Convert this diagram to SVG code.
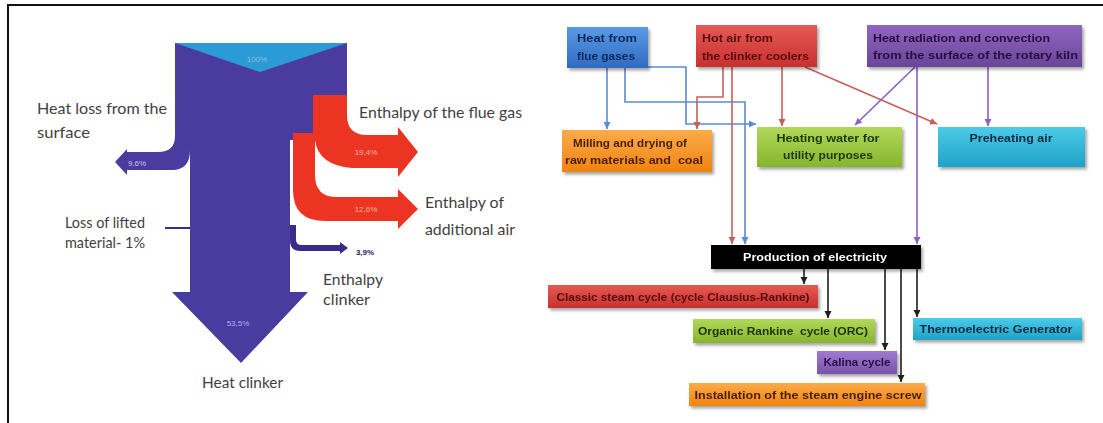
<svg xmlns="http://www.w3.org/2000/svg" width="1103" height="423" viewBox="0 0 1103 423">
  <style>
    .lbl { font-family: "Lato", "Liberation Sans", Arial, sans-serif; font-size: 16px; fill: #3f3f3f; }
    .pct { font-family: "Liberation Sans", Arial, sans-serif; font-size: 8px; }
    .bx  { font-family: "Liberation Sans", Arial, sans-serif; font-size: 11px; font-weight: bold; }
    .cb { fill: none; stroke: #5b8bd4; stroke-width: 1.6; }
    .cr { fill: none; stroke: #c8605a; stroke-width: 1.6; }
    .cp { fill: none; stroke: #8b5fc4; stroke-width: 1.6; }
    .ck { fill: none; stroke: #1e1e1e; stroke-width: 1.6; }
  </style>
  <defs>
    <filter id="shadow" x="-10%" y="-20%" width="125%" height="160%">
      <feDropShadow dx="2" dy="2.5" stdDeviation="1.5" flood-color="#000" flood-opacity="0.35"/>
    </filter>
    <linearGradient id="gBlue" x1="0" y1="0" x2="0" y2="1"><stop offset="0" stop-color="#5a9ae6"/><stop offset="1" stop-color="#2f6bc0"/></linearGradient>
    <linearGradient id="gRed" x1="0" y1="0" x2="0" y2="1"><stop offset="0" stop-color="#e65a55"/><stop offset="1" stop-color="#c8302e"/></linearGradient>
    <linearGradient id="gPurple" x1="0" y1="0" x2="0" y2="1"><stop offset="0" stop-color="#9066c0"/><stop offset="1" stop-color="#6a4598"/></linearGradient>
    <linearGradient id="gOrange" x1="0" y1="0" x2="0" y2="1"><stop offset="0" stop-color="#fbab4a"/><stop offset="1" stop-color="#f0840f"/></linearGradient>
    <linearGradient id="gGreen" x1="0" y1="0" x2="0" y2="1"><stop offset="0" stop-color="#b2d85a"/><stop offset="1" stop-color="#86b52e"/></linearGradient>
    <linearGradient id="gCyan" x1="0" y1="0" x2="0" y2="1"><stop offset="0" stop-color="#4ccbe8"/><stop offset="1" stop-color="#1fa2c8"/></linearGradient>
    <linearGradient id="gViolet" x1="0" y1="0" x2="0" y2="1"><stop offset="0" stop-color="#a07ad0"/><stop offset="1" stop-color="#7a52ac"/></linearGradient>
    <marker id="aB" markerUnits="userSpaceOnUse" markerWidth="8" markerHeight="8" refX="7" refY="4" orient="auto"><path d="M0,0.5 L7,4 L0,7.5 Z" fill="#5b8bd4"/></marker>
    <marker id="aR" markerUnits="userSpaceOnUse" markerWidth="8" markerHeight="8" refX="7" refY="4" orient="auto"><path d="M0,0.5 L7,4 L0,7.5 Z" fill="#c8605a"/></marker>
    <marker id="aP" markerUnits="userSpaceOnUse" markerWidth="8" markerHeight="8" refX="7" refY="4" orient="auto"><path d="M0,0.5 L7,4 L0,7.5 Z" fill="#8b5fc4"/></marker>
    <marker id="aK" markerUnits="userSpaceOnUse" markerWidth="8" markerHeight="8" refX="7" refY="4" orient="auto"><path d="M0,0.5 L7,4 L0,7.5 Z" fill="#1e1e1e"/></marker>
  </defs>

  <rect width="1103" height="423" fill="#ffffff"/>
  <!-- frame -->
  <path d="M8,423 V5 H1103" fill="none" stroke="#111" stroke-width="2"/>

  <!-- Sankey: heat balance of the kiln -->
  <g id="sankey">
    <path id="main-flow" d="M175,43 L347,43 L347,120 L313,120 L313,140 L290,140 L290,292 L308,292 L241,363 L172,292 L190,292 L190,150 Q190,170 172,170 L127,170 L127,175 L115,162 L127,149 L127,152 L158,152 Q175,152 175,136 Z" fill="#4a3b9f"/>
    <polygon id="input-100" points="175,43 347,43 260,72" fill="#2b9bd8"/>
    <path id="flue-gas" d="M313,95 L347,95 L347,115 Q347,135 367,135 L398,135 L398,127 L418,152 L398,177 L398,168 L352,168 Q318,165 315,140 L313,140 Z" fill="#ec3423"/>
    <path id="additional-air" d="M293,133 L315,133 L315,175 Q315,197 337,197 L398,197 L398,189 L418,209 L398,229 L398,221 L325,221 Q293,221 293,190 Z" fill="#ec3423"/>
    <path id="clinker-enthalpy" d="M290,225 L296,225 L296,240 Q296,245 302,245 L340,245 L340,242 L348,248 L340,254 L340,251 L300,251 Q290,251 290,240 Z" fill="#3a2c8c"/>
    <line id="lifted-material" x1="165" y1="228" x2="190" y2="228" stroke="#3a2c8c" stroke-width="2"/>

    <text class="pct" x="257" y="62" text-anchor="middle" fill="#8fb8d8">100%</text>
    <text class="pct" x="137" y="166" text-anchor="middle" fill="#c9c4f0">9.6%</text>
    <text class="pct" x="366" y="155" text-anchor="middle" fill="#ffb3a3">19,4%</text>
    <text class="pct" x="366" y="212" text-anchor="middle" fill="#ffb3a3">12,6%</text>
    <text class="pct" x="238" y="326" text-anchor="middle" font-size="10" fill="#b4aef0">53,5%</text>
    <text class="pct" x="365" y="255" text-anchor="middle" font-weight="bold" fill="#2a2060">3,9%</text>

    <text class="lbl" x="37" y="114" textLength="130" lengthAdjust="spacingAndGlyphs">Heat loss from the</text>
    <text class="lbl" x="37" y="138" textLength="53" lengthAdjust="spacingAndGlyphs">surface</text>
    <text class="lbl" x="65" y="228" textLength="80" lengthAdjust="spacingAndGlyphs">Loss of lifted</text>
    <text class="lbl" x="65" y="248" textLength="80" lengthAdjust="spacingAndGlyphs">material- 1%</text>
    <text class="lbl" x="359" y="118" textLength="163" lengthAdjust="spacingAndGlyphs">Enthalpy of the flue gas</text>
    <text class="lbl" x="425" y="208" textLength="79" lengthAdjust="spacingAndGlyphs">Enthalpy of</text>
    <text class="lbl" x="425" y="235" textLength="90" lengthAdjust="spacingAndGlyphs">additional air</text>
    <text class="lbl" x="323" y="285" textLength="60" lengthAdjust="spacingAndGlyphs">Enthalpy</text>
    <text class="lbl" x="323" y="305" textLength="47" lengthAdjust="spacingAndGlyphs">clinker</text>
    <text class="lbl" x="202" y="388" textLength="81" lengthAdjust="spacingAndGlyphs">Heat clinker</text>
  </g>

  <!-- connectors -->
  <g id="connectors">
    <path class="cb" d="M607,68 V129" marker-end="url(#aB)"/>
    <path class="cb" d="M625,68 V102 H745 V244" marker-end="url(#aB)"/>
    <path class="cb" d="M648,67 H686 V124 H756" marker-end="url(#aB)"/>
    <path class="cr" d="M723,67 V97 H697 V129" marker-end="url(#aR)"/>
    <path class="cr" d="M732,67 V244" marker-end="url(#aR)"/>
    <path class="cr" d="M782,67 V126" marker-end="url(#aR)"/>
    <path class="cr" d="M805,67 L937,124" marker-end="url(#aR)"/>
    <path class="cp" d="M915,67 L855,125" marker-end="url(#aP)"/>
    <path class="cp" d="M917,67 V244" marker-end="url(#aP)"/>
    <path class="cp" d="M988,67 V126" marker-end="url(#aP)"/>
    <path class="ck" d="M804,269 V284" marker-end="url(#aK)"/>
    <path class="ck" d="M828,269 V318" marker-end="url(#aK)"/>
    <path class="ck" d="M885,269 V350" marker-end="url(#aK)"/>
    <path class="ck" d="M901,269 V382" marker-end="url(#aK)"/>
    <path class="ck" d="M917,269 V317" marker-end="url(#aK)"/>
  </g>

  <!-- sources -->
  <g id="flue-gases" filter="url(#shadow)">
    <rect x="567" y="27" width="81" height="41" fill="url(#gBlue)"/>
    <text class="bx" x="577" y="42" fill="#10285a" textLength="60" lengthAdjust="spacingAndGlyphs">Heat from</text>
    <text class="bx" x="577" y="60" fill="#10285a" textLength="58" lengthAdjust="spacingAndGlyphs">flue gases</text>
  </g>
  <g id="clinker-coolers" filter="url(#shadow)">
    <rect x="696" y="25" width="121" height="42" fill="url(#gRed)"/>
    <text class="bx" x="702" y="42" fill="#560c0c" textLength="71" lengthAdjust="spacingAndGlyphs">Hot air from</text>
    <text class="bx" x="702" y="60" fill="#560c0c" textLength="107" lengthAdjust="spacingAndGlyphs">the clinker coolers</text>
  </g>
  <g id="kiln-surface" filter="url(#shadow)">
    <rect x="867" y="25" width="215" height="42" fill="url(#gPurple)"/>
    <text class="bx" x="873" y="42" fill="#2a0e40" textLength="177" lengthAdjust="spacingAndGlyphs">Heat radiation and convection</text>
    <text class="bx" x="873" y="59" fill="#2a0e40" textLength="205" lengthAdjust="spacingAndGlyphs">from the surface of the rotary kiln</text>
  </g>

  <!-- direct uses -->
  <g id="milling" filter="url(#shadow)">
    <rect x="562" y="130" width="150" height="42" fill="url(#gOrange)"/>
    <text class="bx" x="630" y="147" text-anchor="middle" fill="#4a1f00" textLength="114" lengthAdjust="spacingAndGlyphs">Milling and drying of</text>
    <text class="bx" x="634" y="164" text-anchor="middle" fill="#4a1f00" xml:space="preserve" textLength="138" lengthAdjust="spacingAndGlyphs">raw materials and  coal</text>
  </g>
  <g id="heating-water" filter="url(#shadow)">
    <rect x="757" y="127" width="145" height="40" fill="url(#gGreen)"/>
    <text class="bx" x="828" y="142" text-anchor="middle" fill="#1c3800" textLength="103" lengthAdjust="spacingAndGlyphs">Heating water for</text>
    <text class="bx" x="828" y="159" text-anchor="middle" fill="#1c3800" textLength="90" lengthAdjust="spacingAndGlyphs">utility purposes</text>
  </g>
  <g id="preheating-air" filter="url(#shadow)">
    <rect x="938" y="127" width="147" height="40" fill="url(#gCyan)"/>
    <text class="bx" x="1011" y="142" text-anchor="middle" fill="#0a2a40" textLength="83" lengthAdjust="spacingAndGlyphs">Preheating air</text>
  </g>

  <!-- electricity -->
  <g id="electricity" filter="url(#shadow)">
    <rect x="711" y="245" width="210" height="24" fill="#000"/>
    <text class="bx" x="815" y="261" text-anchor="middle" fill="#ffffff" textLength="144" lengthAdjust="spacingAndGlyphs">Production of electricity</text>
  </g>
  <g id="rankine" filter="url(#shadow)">
    <rect x="548" y="285" width="270" height="23" fill="url(#gRed)"/>
    <text class="bx" x="683" y="301" text-anchor="middle" fill="#560c0c" textLength="253" lengthAdjust="spacingAndGlyphs">Classic steam cycle (cycle Clausius-Rankine)</text>
  </g>
  <g id="orc" filter="url(#shadow)">
    <rect x="693" y="319" width="182" height="24" fill="url(#gGreen)"/>
    <text class="bx" x="783" y="335" text-anchor="middle" fill="#1c3000" xml:space="preserve" textLength="170" lengthAdjust="spacingAndGlyphs">Organic Rankine  cycle (ORC)</text>
  </g>
  <g id="thermoelectric" filter="url(#shadow)">
    <rect x="913" y="318" width="169" height="22" fill="url(#gCyan)"/>
    <text class="bx" x="996" y="333" text-anchor="middle" fill="#0a2a40" textLength="153" lengthAdjust="spacingAndGlyphs">Thermoelectric Generator</text>
  </g>
  <g id="kalina" filter="url(#shadow)">
    <rect x="817" y="351" width="80" height="23" fill="url(#gViolet)"/>
    <text class="bx" x="857" y="366" text-anchor="middle" fill="#2a0e40" textLength="67" lengthAdjust="spacingAndGlyphs">Kalina cycle</text>
  </g>
  <g id="screw-engine" filter="url(#shadow)">
    <rect x="689" y="383" width="236" height="23" fill="url(#gOrange)"/>
    <text class="bx" x="808" y="399" text-anchor="middle" fill="#4a1f00" textLength="227" lengthAdjust="spacingAndGlyphs">Installation of the steam engine screw</text>
  </g>
</svg>
